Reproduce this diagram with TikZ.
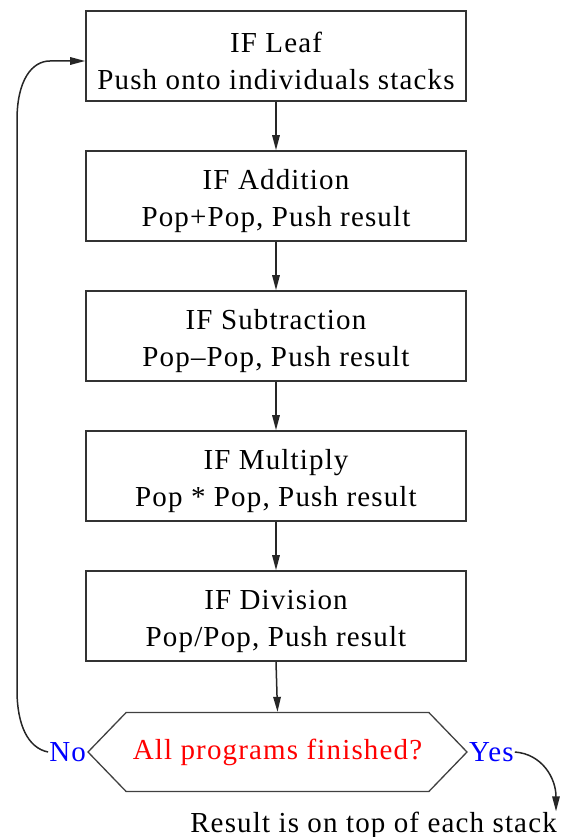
\documentclass[tikz,border=0pt]{standalone}
\usepackage{fontspec}
\setmainfont{Liberation Serif}[LetterSpace=4]
\usetikzlibrary{arrows.meta,shapes.symbols}
% strut that lowers the two-line text inside the step boxes a little
\newcommand\linestrut{\rule{0pt}{30pt}}
\begin{document}
\begin{tikzpicture}[x=1pt,y=-1pt,
  every node/.style={font=\fontsize{29}{37}\selectfont},
  stepbox/.style={draw=black!80,line width=1.6pt,minimum width=380,minimum height=90,
    align=center,inner sep=0pt},
  decision/.style={signal,signal to=east and west,signal pointer angle=92,draw=black!75,
    line width=1.3pt,minimum width=379,minimum height=79,inner sep=0pt},
  flow/.style={line width=1.5pt,black!85,-{Triangle[length=15pt,width=7.5pt]}},
  answer/.style={text=blue,inner sep=1pt}]
  \path[use as bounding box] (0,0) rectangle (560,837);

  % processing steps
  \node[stepbox] (leaf) at (276,56)  {\linestrut IF Leaf\\Push onto individuals stacks};
  \node[stepbox] (add)  at (276,196) {\linestrut IF Addition\\Pop+Pop, Push result};
  \node[stepbox] (sub)  at (276,336) {\linestrut IF Subtraction\\Pop–Pop, Push result};
  \node[stepbox] (mul)  at (276,476) {\linestrut IF Multiply\\Pop * Pop, Push result};
  \node[stepbox] (div)  at (276,616) {\linestrut IF Division\\Pop/Pop, Push result};

  % termination test
  \node[decision,text=red] (done) at (277.5,752) {All programs finished?};
  \node[answer,anchor=east] (no)  at (done.west) {No};
  \node[answer,anchor=west] (yes) at (done.east) {Yes};
  \node[anchor=base east,inner sep=0pt] (result) at (557,832) {Result is on top of each stack};

  % connectors
  \draw[flow] (leaf) -- (add);
  \draw[flow] (add) -- (sub);
  \draw[flow] (sub) -- (mul);
  \draw[flow] (mul) -- (div);
  \draw[flow] (div.south) -- (done.north);
  \draw[flow] (no.west) .. controls (28,748) and (17,725) .. (17,690)
    -- (17,120) .. controls (17,80) and (32,61) .. (50,61) -- ([yshift=-5pt]leaf.west);
  \draw[flow] (yes.east) .. controls (542,754) and (556,778) .. ([xshift=-1pt]result.north east);
\end{tikzpicture}
\end{document}
